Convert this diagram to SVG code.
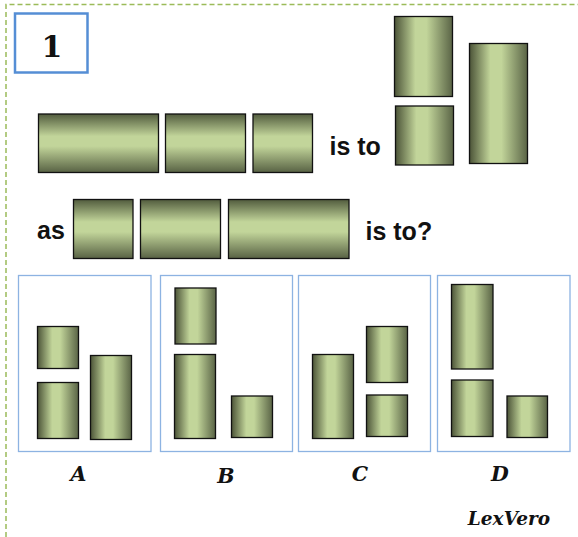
<svg xmlns="http://www.w3.org/2000/svg" width="578" height="537" viewBox="0 0 578 537">
<defs>
<linearGradient id="gv" x1="0" y1="0" x2="0" y2="1">
<stop offset="0" stop-color="#525c3e"/>
<stop offset="0.38" stop-color="#c2d59a"/>
<stop offset="0.55" stop-color="#c2d59a"/>
<stop offset="1" stop-color="#586244"/>
</linearGradient>
<linearGradient id="gh" x1="0" y1="0" x2="1" y2="0">
<stop offset="0" stop-color="#4c5438"/>
<stop offset="0.36" stop-color="#c2d59a"/>
<stop offset="0.55" stop-color="#c2d59a"/>
<stop offset="1" stop-color="#5a6446"/>
</linearGradient>
</defs>
<style>
.hb{fill:url(#gv);stroke:#111;stroke-width:1.3}
.vb{fill:url(#gh);stroke:#111;stroke-width:1.3}
.opt{fill:none;stroke:#8db3e2;stroke-width:1.3}
.t{font-family:"Liberation Sans",Arial,sans-serif;font-weight:bold;font-size:25px;fill:#111}
.lab{font-family:"DejaVu Serif",serif;font-weight:bold;font-style:italic;font-size:20.5px;fill:#111;text-anchor:middle}
</style>
<path d="M6,537 V4.5 H578" fill="none" stroke="#9bbb59" stroke-width="1.5" stroke-dasharray="5,3"/>
<g id="num">
<rect x="15" y="13.5" width="72.5" height="59" fill="#fff" stroke="#558ed5" stroke-width="2.5"/>
<text x="52" y="57" font-family="DejaVu Serif,serif" font-weight="bold" font-size="30" text-anchor="middle" fill="#111">1</text>
</g>
<g id="row1">
<rect class="hb" x="38.5" y="114" width="120" height="58.5"/>
<rect class="hb" x="165.5" y="114" width="80" height="58.5"/>
<rect class="hb" x="253" y="114" width="59.5" height="58.5"/>
<text class="t" x="329.5" y="154.5">is to</text>
<rect class="vb" x="394.5" y="16.5" width="58" height="80"/>
<rect class="vb" x="395.5" y="106" width="58" height="59"/>
<rect class="vb" x="469.5" y="43.5" width="58" height="120"/>
</g>
<g id="row2">
<text class="t" x="37" y="238.5">as</text>
<rect class="hb" x="73.5" y="199.5" width="59.5" height="59"/>
<rect class="hb" x="140.5" y="199.5" width="80" height="59"/>
<rect class="hb" x="228.5" y="199.5" width="120.5" height="59"/>
<text class="t" x="365.5" y="240">is to?</text>
</g>
<g id="optA">
<rect class="opt" x="18.5" y="275.5" width="132.5" height="176"/>
<rect class="vb" x="37.5" y="326.5" width="41" height="42"/>
<rect class="vb" x="37.5" y="382.5" width="41" height="56"/>
<rect class="vb" x="90.5" y="355.5" width="41" height="84"/>
<text class="lab" x="78.5" y="480.5">A</text>
</g>
<g id="optB">
<rect class="opt" x="160.5" y="275.5" width="132" height="176"/>
<rect class="vb" x="175" y="288" width="41" height="56"/>
<rect class="vb" x="174.5" y="354.5" width="41" height="84"/>
<rect class="vb" x="231.5" y="396" width="41" height="41.5"/>
<text class="lab" x="226" y="483">B</text>
</g>
<g id="optC">
<rect class="opt" x="298.5" y="275.5" width="132" height="176"/>
<rect class="vb" x="312.5" y="354.5" width="41" height="84"/>
<rect class="vb" x="366.5" y="326.5" width="41" height="56"/>
<rect class="vb" x="366.5" y="395" width="41" height="41.5"/>
<text class="lab" x="360" y="481">C</text>
</g>
<g id="optD">
<rect class="opt" x="437.5" y="275.5" width="132.5" height="176"/>
<rect class="vb" x="451.5" y="284.5" width="41.5" height="84.5"/>
<rect class="vb" x="451.5" y="380" width="41.5" height="56.5"/>
<rect class="vb" x="507" y="396" width="40.5" height="41.5"/>
<text class="lab" x="500" y="481">D</text>
</g>
<text x="509" y="524.5" font-family="DejaVu Serif,serif" font-weight="bold" font-style="italic" font-size="18.5" text-anchor="middle" fill="#111">LexVero</text>
</svg>
